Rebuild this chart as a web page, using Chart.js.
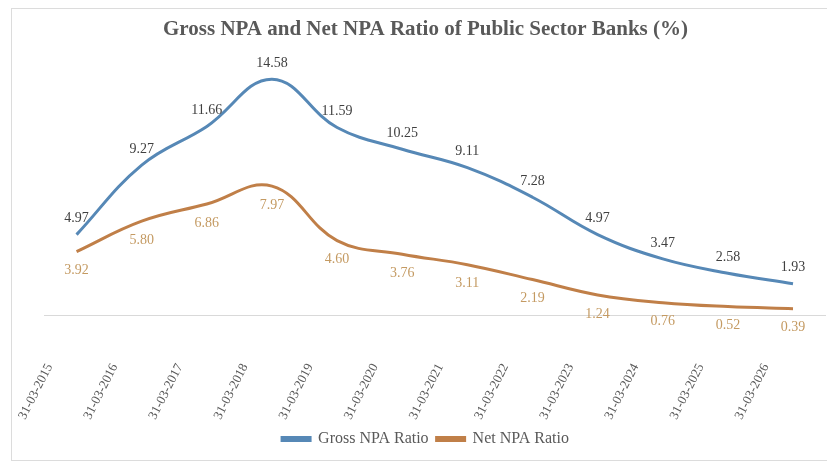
<!DOCTYPE html>
<html>
<head>
<meta charset="utf-8">
<title>Gross NPA and Net NPA Ratio</title>
<script src="https://cdn.jsdelivr.net/npm/chart.js@4.4.1/dist/chart.umd.min.js"></script>
<style>
  html, body { margin: 0; padding: 0; background: #fff; overflow: hidden; }
  #frame { position: absolute; left: 11px; top: 8px; width: 830px; height: 451px; border: 1px solid #dcdcdc; }
  #wrap { position: absolute; left: 0; top: 0; width: 853px; height: 461px; }
</style>
</head>
<body>
<div id="frame"></div>
<div id="wrap"><canvas id="npaChart"></canvas></div>
<script>
// Dates de fin d'exercice
const dates = ['31-03-2015', '31-03-2016', '31-03-2017', '31-03-2018', '31-03-2019', '31-03-2020',
               '31-03-2021', '31-03-2022', '31-03-2023', '31-03-2024', '31-03-2025', '31-03-2026'];

// Ratios en %
const grossNpa = [4.97, 9.27, 11.66, 14.58, 11.59, 10.25, 9.11, 7.28, 4.97, 3.47, 2.58, 1.93];
const netNpa   = [3.92, 5.80, 6.86, 7.97, 4.60, 3.76, 3.11, 2.19, 1.24, 0.76, 0.52, 0.39];

const serif = '"Liberation Serif", "DejaVu Serif", serif';

// Petites étiquettes de valeur au-dessus / en dessous de chaque point
const valueLabels = {
    id: 'valueLabels',
    afterDatasetsDraw(chart, args, opts) {
        const ctx = chart.ctx;
        chart.data.datasets.forEach((ds, i) => {
            const meta = chart.getDatasetMeta(i);
            ctx.save();
            ctx.font = '14px ' + serif;
            ctx.fillStyle = opts.colors[i];
            ctx.textAlign = 'center';
            ctx.textBaseline = 'middle';
            meta.data.forEach((pt, j) => {
                ctx.fillText(ds.data[j].toFixed(2), pt.x, pt.y + opts.shifts[i]);
            });
            ctx.restore();
        });
    }
};

const ctx = document.getElementById('npaChart').getContext('2d');
new Chart(ctx, {
    type: 'line',
    data: {
        labels: dates,
        datasets: [{
            label: 'Gross NPA Ratio',
            data: grossNpa,
            borderColor: '#5688b6',
            backgroundColor: '#5688b6',
            borderWidth: 3,
            tension: 0.4,
            pointRadius: 0
        }, {
            label: 'Net NPA Ratio',
            data: netNpa,
            borderColor: '#c07f48',
            backgroundColor: '#c07f48',
            borderWidth: 3,
            tension: 0.4,
            pointRadius: 0
        }]
    },
    options: {
        responsive: true,
        maintainAspectRatio: false,
        animation: false,
        layout: { padding: { left: 0, right: 2, top: 0, bottom: 4 } },
        plugins: {
            title: {
                display: true,
                text: 'Gross NPA and Net NPA Ratio of Public Sector Banks (%)',
                color: '#595959',
                font: { family: serif, size: 21, weight: 'bold' },
                padding: { top: 17, bottom: 14 }
            },
            legend: {
                position: 'bottom',
                labels: {
                    color: '#595959',
                    boxWidth: 28,
                    boxHeight: 3,
                    padding: 8,
                    font: { family: serif, size: 16 }
                }
            },
            tooltip: { enabled: false },
            valueLabels: {
                colors: ['#404040', '#c49a62'],
                shifts: [-16, 19]
            }
        },
        scales: {
            x: {
                offset: true,
                grid: { display: false, drawTicks: false },
                border: { display: true, color: '#d9d9d9', width: 1 },
                ticks: {
                    autoSkip: false,
                    minRotation: 63,
                    maxRotation: 63,
                    labelOffset: -27,
                    padding: 46,
                    color: '#595959',
                    font: { family: serif, size: 13 }
                },
                // hauteur fixe de l'axe (le padding des ticks est compté deux fois sinon)
                afterFit: scale => { scale.height = 108; }
            },
            y: {
                // axe invisible, sert seulement de marge à gauche
                display: true,
                min: 0,
                max: 16,
                grid: { display: false },
                border: { display: false },
                ticks: { display: false },
                afterFit: scale => { scale.width = 44; }
            }
        }
    },
    plugins: [valueLabels]
});
</script>
</body>
</html>
